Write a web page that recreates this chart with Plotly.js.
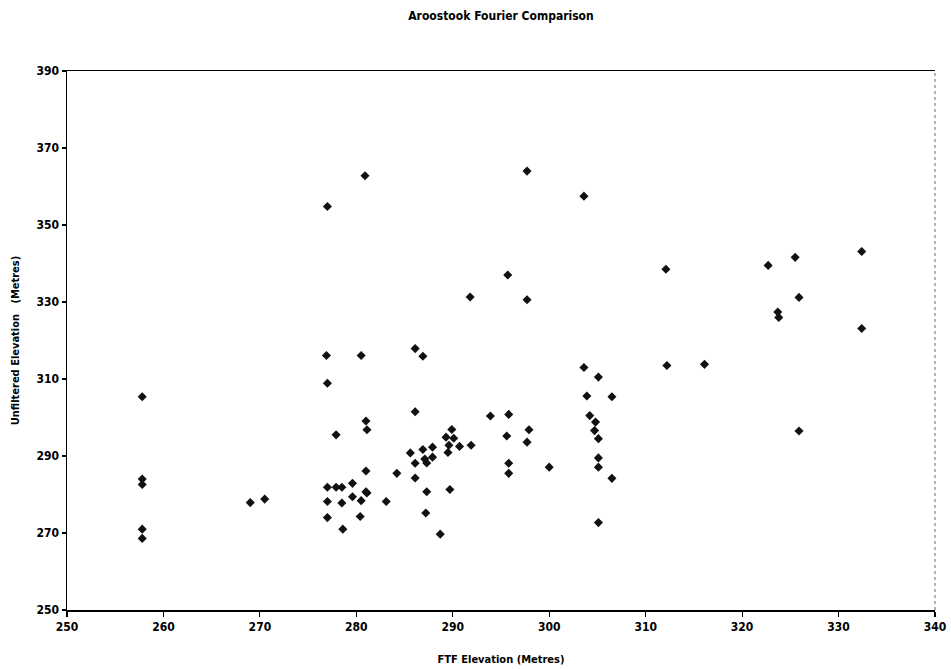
<!DOCTYPE html>
<html>
<head>
<meta charset="utf-8">
<script src="https://cdn.plot.ly/plotly-3.0.1.min.js"></script>
<style>html,body{margin:0;padding:0;background:#fff;}#chart{width:951px;height:669px;}</style>
</head>
<body>
<div id="chart"></div>
<script>
const ftfElevation = [
  257.8, 257.8, 257.8, 257.8, 257.8,
  269.0, 270.5,
  276.9, 277.0, 277.9, 277.0, 277.9, 278.5, 279.6, 277.0, 278.5, 279.6, 277.0, 278.6, 277.0,
  280.9, 297.7, 303.6, 295.7, 291.8, 297.7,
  280.5, 286.1, 286.9, 286.1, 281.0, 281.1, 281.0, 280.4, 280.5, 281.0, 281.1,
  283.1, 284.2, 285.6, 286.1, 286.9, 287.1, 287.3, 287.9, 287.9, 286.1, 287.3, 287.2, 288.7,
  289.9, 289.3, 290.1, 289.6, 289.5, 290.7, 291.9, 289.7,
  293.9, 295.8, 295.6, 295.8, 295.8, 297.9, 297.7, 300.0,
  303.6, 305.1, 303.9, 306.5, 304.2, 304.8, 304.7, 305.1, 305.1, 305.1, 306.5, 305.1,
  312.1, 322.7, 325.5, 332.4, 325.9, 323.7, 323.8, 332.4, 312.2, 316.1, 325.9
];
const unfilteredElevation = [
  305.4, 284.0, 282.6, 271.0, 268.6,
  277.9, 278.8,
  316.1, 308.9, 295.5, 281.9, 281.9, 281.9, 282.9, 278.2, 277.8, 279.4, 274.0, 271.0, 354.8,
  362.8, 364.0, 357.5, 337.0, 331.3, 330.6,
  316.1, 317.9, 315.9, 301.5, 299.1, 296.8, 286.1, 274.3, 278.4, 280.7, 280.4,
  278.2, 285.5, 290.8, 288.1, 291.7, 289.2, 288.2, 292.3, 289.7, 284.3, 280.7, 275.2, 269.7,
  296.9, 294.9, 294.6, 292.8, 290.9, 292.5, 292.8, 281.3,
  300.4, 300.8, 295.2, 288.1, 285.5, 296.8, 293.6, 287.1,
  313.0, 310.5, 305.6, 305.4, 300.5, 298.8, 296.6, 294.5, 289.5, 287.1, 284.2, 272.7,
  338.5, 339.5, 341.6, 343.1, 331.2, 327.4, 326.0, 323.1, 313.5, 313.8, 296.5
];
const xTicks = [250, 260, 270, 280, 290, 300, 310, 320, 330, 340];
const yTicks = [250, 270, 290, 310, 330, 350, 370, 390];
const chartTitle = "Aroostook Fourier Comparison";
const xTitle = "FTF Elevation (Metres)";
const yTitle = "Unfiltered Elevation &nbsp; (Metres)";

const FONT = '"DejaVu Sans Condensed", "Liberation Sans Narrow", "Liberation Sans", Arial, sans-serif';

const trace = {
  type: 'scatter',
  mode: 'markers',
  x: ftfElevation,
  y: unfilteredElevation,
  marker: {symbol: 'diamond', size: 7, color: '#111111', line: {width: 0}},
  hoverinfo: 'x+y'
};

const layout = {
  width: 951, height: 669,
  paper_bgcolor: '#ffffff', plot_bgcolor: '#ffffff',
  margin: {l: 67, r: 16, t: 71, b: 59},
  showlegend: false,
  font: {family: FONT, color: '#000', size: 12},
  title: {
    text: '<b>' + chartTitle + '</b>',
    font: {family: FONT, size: 12, color: '#000'},
    x: 0.5, xref: 'paper', xanchor: 'center',
    y: 0.977, yref: 'container', yanchor: 'middle'
  },
  xaxis: {
    range: [250, 340], tickvals: xTicks, ticktext: xTicks.map(v => '<b>' + v + '</b>'),
    showgrid: false, zeroline: false,
    showline: true, linecolor: '#000', linewidth: 1.5, mirror: true,
    ticks: 'outside', ticklen: 5, tickcolor: '#000', tickwidth: 1.2,
    tickfont: {family: FONT, size: 12, color: '#000'},
    title: {text: '<b>' + xTitle + '</b>', font: {family: FONT, size: 11, color: '#000'}, standoff: 22}
  },
  yaxis: {
    range: [250, 390], tickvals: yTicks, ticktext: yTicks.map(v => '<b>' + v + '</b>'),
    showgrid: false, zeroline: false,
    showline: true, linecolor: '#000', linewidth: 1.5, mirror: false,
    ticks: 'outside', ticklen: 4, tickcolor: '#000', tickwidth: 1.2,
    tickfont: {family: FONT, size: 12, color: '#000'},
    title: {text: '<b>' + yTitle + '</b>', font: {family: FONT, size: 11, color: '#000'}, standoff: 14}
  },
  shapes: [
    {type: 'line', xref: 'paper', yref: 'paper', x0: 1, x1: 1, y0: 0, y1: 1,
     line: {color: '#666', width: 1, dash: 'dot'}}
  ]
};

Plotly.newPlot('chart', [trace], layout, {displayModeBar: false, staticPlot: true});
</script>
</body>
</html>
